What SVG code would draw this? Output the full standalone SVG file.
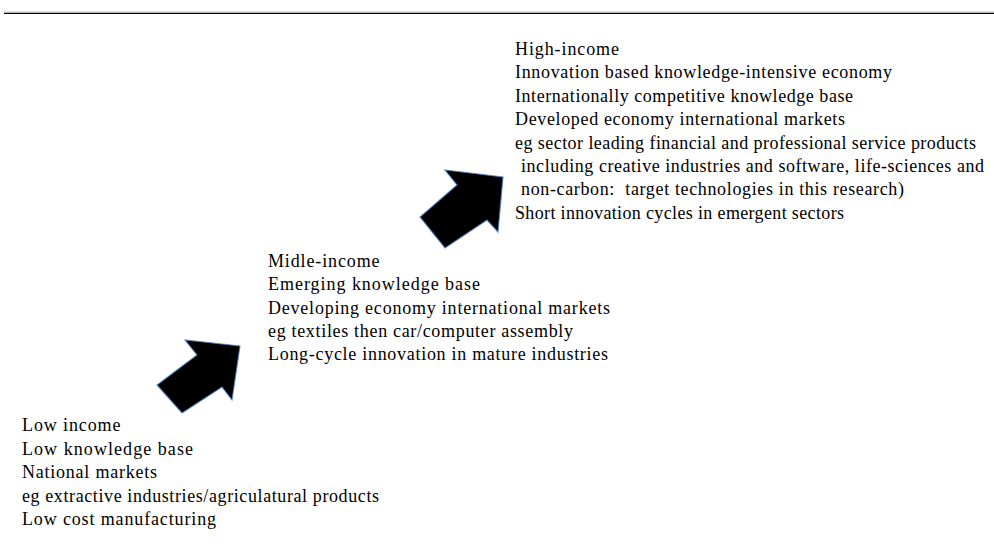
<svg xmlns="http://www.w3.org/2000/svg" width="994" height="546" viewBox="0 0 994 546">
<style>
text{font-family:"Liberation Serif","Times New Roman",serif;font-size:18px;fill:#000}
.arrow{fill:#000;stroke:#4a7ebb;stroke-width:1.2;stroke-opacity:0.8;stroke-linejoin:miter}
</style>
<rect width="994" height="546" fill="#fff"/>
<line x1="4" y1="12.2" x2="994" y2="12.2" stroke="#999" stroke-width="1"/>
<line x1="4" y1="13.5" x2="994" y2="13.5" stroke="#000" stroke-width="1.2"/>
<g id="connectors">
<polygon class="arrow" points="240,346 232,400 222,387 182,413 157,385 197,355 185,340"/>
<polygon class="arrow" points="503,177 498,232 487,220 445,248 420,217 457,185 445,170"/>
</g>
<g id="low">
<text x="22" y="431" textLength="98.5">Low income</text>
<text x="22" y="454.5" textLength="171">Low knowledge base</text>
<text x="22" y="478" textLength="135">National markets</text>
<text x="22" y="501.5" textLength="357">eg extractive industries/agriculatural products</text>
<text x="22" y="525" textLength="194">Low cost manufacturing</text>
</g>
<g id="middle">
<text x="268" y="267" textLength="111.5">Midle-income</text>
<text x="268" y="290.3" textLength="212">Emerging knowledge base</text>
<text x="268" y="313.6" textLength="342">Developing economy international markets</text>
<text x="268" y="336.9" textLength="305">eg textiles then car/computer assembly</text>
<text x="268" y="360.2" textLength="340">Long-cycle innovation in mature industries</text>
</g>
<g id="high">
<text x="515" y="55" textLength="104">High-income</text>
<text x="515" y="78.4" textLength="377">Innovation based knowledge-intensive economy</text>
<text x="515" y="101.8" textLength="338">Internationally competitive knowledge base</text>
<text x="515" y="125.2" textLength="330">Developed economy international markets</text>
<text x="515" y="148.6" textLength="461">eg sector leading financial and professional service products</text>
<text x="521" y="172" textLength="463">including creative industries and software, life-sciences and</text>
<text x="521" y="195.4" xml:space="preserve" textLength="383">non-carbon:  target technologies in this research)</text>
<text x="515" y="218.8" textLength="329">Short innovation cycles in emergent sectors</text>
</g>
</svg>
